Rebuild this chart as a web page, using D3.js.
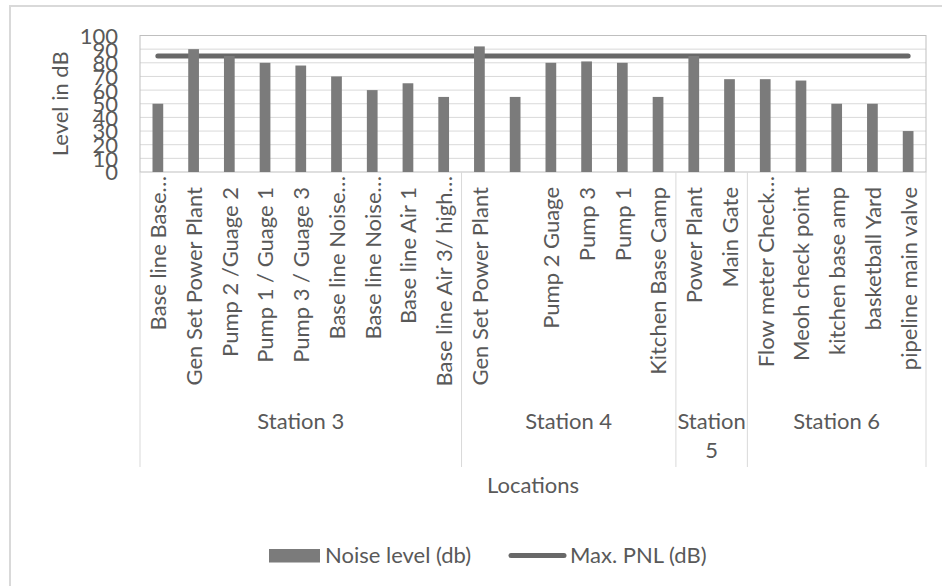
<!DOCTYPE html>
<html>
<head>
<meta charset="utf-8">
<script src="https://cdn.jsdelivr.net/npm/d3@7"></script>
<style>
  html, body { margin: 0; padding: 0; background: #fff; }
  svg text { font-family: Lato, "Open Sans", sans-serif; fill: #595959; }
</style>
</head>
<body>
<svg id="chart" width="942" height="586"></svg>
<script>
// ---- data ----
const locations = [
  "Base line Base…", "Gen Set Power Plant", "Pump 2 /Guage 2", "Pump 1 / Guage 1",
  "Pump 3 / Guage 3", "Base line Noise…", "Base line Noise…", "Base line Air 1",
  "Base line Air 3/ high…",
  "Gen Set Power Plant", "", "Pump 2 Guage", "Pump 3", "Pump 1", "Kitchen Base Camp",
  "Power Plant", "Main Gate",
  "Flow meter Check…", "Meoh check point", "kitchen base amp", "basketball Yard", "pipeline main valve"
];
const stations = [
  "Station 3", "Station 3", "Station 3", "Station 3", "Station 3", "Station 3", "Station 3", "Station 3", "Station 3",
  "Station 4", "Station 4", "Station 4", "Station 4", "Station 4", "Station 4",
  "Station 5", "Station 5",
  "Station 6", "Station 6", "Station 6", "Station 6", "Station 6"
];
const noiseLevel = [50, 90, 85, 80, 78, 70, 60, 65, 55, 92, 55, 80, 81, 80, 55, 85, 68, 68, 67, 50, 50, 30];
const maxPNL = [85, 85, 85, 85, 85, 85, 85, 85, 85, 85, 85, 85, 85, 85, 85, 85, 85, 85, 85, 85, 85, 85];
const yTicks = [0, 10, 20, 30, 40, 50, 60, 70, 80, 90, 100];
const seriesNames = ["Noise level (db)", "Max. PNL (dB)"];
const yTitle = "Level in dB";
const xTitle = "Locations";

// ---- layout ----
const plot = { left: 140, right: 926, top: 35.5, bottom: 172 };
const barColor = "#7b7b7b", lineColor = "#686868", gridColor = "#d9d9d9", textColor = "#595959";
const fs = 22;

const svg = d3.select("#chart");

// outer chart border
svg.append("rect").attr("x", 10).attr("y", 6).attr("width", 960).attr("height", 600)
  .attr("fill", "none").attr("stroke", "#d9d9d9").attr("stroke-width", 2);

const idx = locations.map((d, i) => i);
const x = d3.scaleBand().domain(idx).range([plot.left, plot.right]).paddingInner(0.7).paddingOuter(0.35);
const y = d3.scaleLinear().domain([0, 100]).range([plot.bottom, plot.top]);

// gridlines
svg.append("g").selectAll("line").data(yTicks.slice(1)).join("line")
  .attr("x1", plot.left).attr("x2", plot.right)
  .attr("y1", d => y(d)).attr("y2", d => y(d))
  .attr("stroke", gridColor).attr("stroke-width", 1);

// plot frame
svg.append("rect").attr("x", plot.left).attr("y", plot.top)
  .attr("width", plot.right - plot.left).attr("height", plot.bottom - plot.top)
  .attr("fill", "none").attr("stroke", "#bfbfbf").attr("stroke-width", 1);

// y axis labels
const yAxis = d3.axisLeft(y).tickValues(yTicks).tickSize(0).tickPadding(0);
const gy = svg.append("g").attr("transform", `translate(118,0)`).call(yAxis);
gy.select(".domain").remove();
gy.selectAll("text").style("font-size", fs + "px").attr("fill", textColor)
  .style("font-family", "Lato, sans-serif").attr("dy", "0.36em");

// y title
svg.append("text")
  .attr("transform", `translate(68,${(plot.top + plot.bottom) / 2}) rotate(-90)`)
  .attr("text-anchor", "middle").style("font-size", fs + "px").text(yTitle);

// Max PNL line (behind bars)
const line = d3.line().x((d, i) => x(i) + x.bandwidth() / 2).y(d => y(d));
svg.append("path").datum(maxPNL).attr("d", line)
  .attr("fill", "none").attr("stroke", lineColor).attr("stroke-width", 5)
  .attr("stroke-linecap", "round");

// bars
svg.append("g").selectAll("rect").data(noiseLevel).join("rect")
  .attr("x", (d, i) => x(i)).attr("width", x.bandwidth())
  .attr("y", d => y(d)).attr("height", d => y(0) - y(d))
  .attr("fill", barColor);

// category labels
svg.append("g").selectAll("text").data(locations).join("text")
  .attr("transform", (d, i) => {
    const cx = x(i) + x.bandwidth() / 2;
    const yy = d.endsWith("…") ? 176 : 187;
    return `translate(${cx},${yy}) rotate(-90)`;
  })
  .attr("text-anchor", "end").attr("dy", "0.38em")
  .style("font-size", fs + "px").text(d => d);

// group separators and labels
const groups = [];
stations.forEach((s, i) => {
  const last = groups[groups.length - 1];
  if (last && last.name === s) last.end = i;
  else groups.push({ name: s, start: i, end: i });
});
const step = x.step();
const gx0 = g => plot.left + g.start * step;
const gx1 = g => plot.left + (g.end + 1) * step;
const sepX = [plot.left].concat(groups.map(gx1));
svg.append("g").selectAll("line").data(sepX).join("line")
  .attr("x1", d => d).attr("x2", d => d).attr("y1", plot.bottom).attr("y2", 467)
  .attr("stroke", gridColor).attr("stroke-width", 1);

svg.append("g").selectAll("text").data(groups).join("text")
  .attr("text-anchor", "middle").style("font-size", fs + "px")
  .attr("x", g => (gx0(g) + gx1(g)) / 2).attr("y", 429)
  .each(function (g) {
    const t = d3.select(this);
    const cx = (gx0(g) + gx1(g)) / 2;
    t.text(g.name);
    if (this.getComputedTextLength() > gx1(g) - gx0(g) - 2) {
      t.text(null);
      const words = g.name.split(" ");
      words.forEach((w, k) => {
        t.append("tspan").attr("x", cx).attr("dy", k === 0 ? 0 : 29).text(w);
      });
    }
  });

// x title
svg.append("text").attr("x", (plot.left + plot.right) / 2).attr("y", 493)
  .attr("text-anchor", "middle").style("font-size", fs + "px").text(xTitle);

// legend
const lg = svg.append("g");
lg.append("rect").attr("x", 269).attr("y", 549).attr("width", 51).attr("height", 13.5).attr("fill", barColor);
lg.append("text").attr("x", 325).attr("y", 563).style("font-size", fs + "px").text(seriesNames[0]);
lg.append("line").attr("x1", 511).attr("x2", 564).attr("y1", 555.5).attr("y2", 555.5)
  .attr("stroke", lineColor).attr("stroke-width", 5).attr("stroke-linecap", "round");
lg.append("text").attr("x", 570).attr("y", 563).style("font-size", fs + "px").text(seriesNames[1]);
</script>
</body>
</html>
